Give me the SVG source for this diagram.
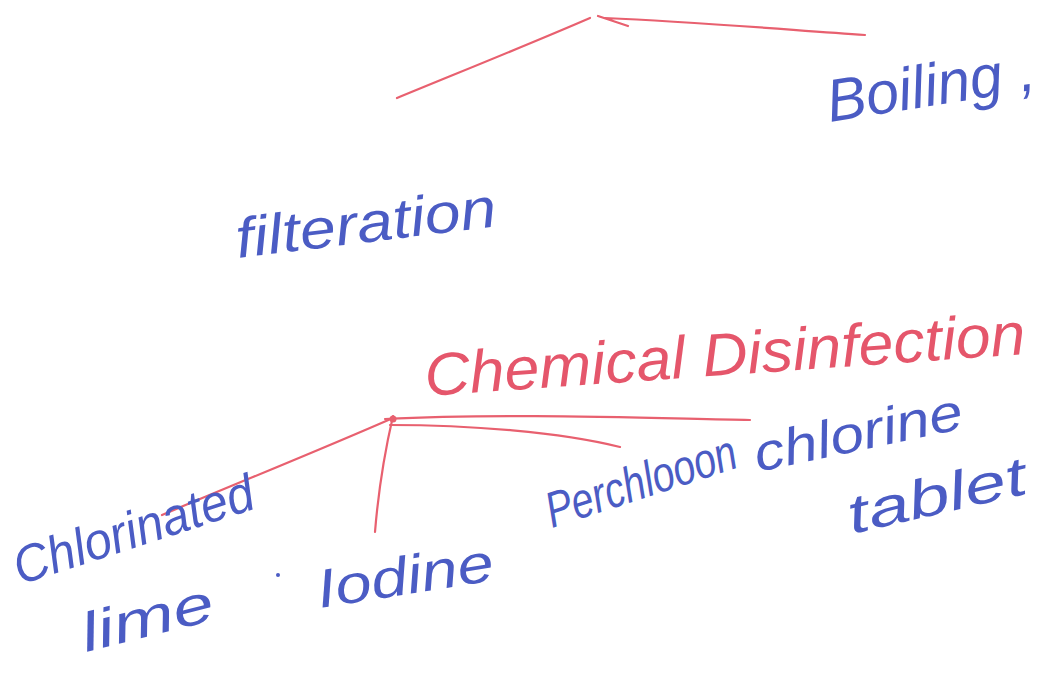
<svg xmlns="http://www.w3.org/2000/svg" width="1058" height="674" viewBox="0 0 1058 674">
  <style>
    .ink-blue { fill: #4b5cc4; font-family: "Liberation Sans", sans-serif; font-style: italic; }
    .ink-red { fill: #e5566b; font-family: "Liberation Sans", sans-serif; font-style: italic; }
    .stroke-red { fill: none; stroke: #e8606f; stroke-width: 2.2; stroke-linecap: round; stroke-linejoin: round; }
  </style>
  <rect width="1058" height="674" fill="#ffffff"/>

  <!-- pen strokes -->
  <g id="connectors">
    <path class="stroke-red" d="M397,98 C460,72 530,44 590,18"/>
    <path class="stroke-red" d="M598,16 L628,26 M605,18 C700,22 790,30 865,35"/>
    <path class="stroke-red" d="M162,515 C240,482 320,450 393,418"/>
    <path class="stroke-red" d="M393,416 C384,455 378,495 375,532"/>
    <path class="stroke-red" d="M385,419 C500,413 640,418 750,420"/>
    <path class="stroke-red" d="M390,425 C470,425 560,432 620,447"/>
    <circle cx="393" cy="419" r="3.5" fill="#e8606f"/>
  </g>

  <g id="boiling">
    <text class="ink-blue" font-size="60" textLength="210" lengthAdjust="spacingAndGlyphs" transform="translate(830,122) rotate(-9)">Boiling ,</text>
  </g>

  <g id="filteration">
    <text class="ink-blue" font-size="56" textLength="262" lengthAdjust="spacingAndGlyphs" transform="translate(238,258) rotate(-7)">filteration</text>
  </g>

  <g id="chemical-disinfection">
    <text class="ink-red" font-size="60" textLength="602" lengthAdjust="spacingAndGlyphs" transform="translate(426,396) rotate(-4)">Chemical Disinfection</text>
  </g>

  <g id="chlorinated-lime">
    <text class="ink-blue" font-size="52" textLength="250" lengthAdjust="spacingAndGlyphs" transform="translate(20,585) rotate(-18)">Chlorinated</text>
    <text class="ink-blue" font-size="54" textLength="135" lengthAdjust="spacingAndGlyphs" transform="translate(86,652) rotate(-14)">lime</text>
    <circle cx="278" cy="575" r="2" fill="#4b5cc4"/>
  </g>

  <g id="iodine">
    <text class="ink-blue" font-size="54" textLength="178" lengthAdjust="spacingAndGlyphs" transform="translate(320,608) rotate(-9)">Iodine</text>
  </g>

  <g id="perchloron-tablet">
    <text class="ink-blue" font-size="50" textLength="198" lengthAdjust="spacingAndGlyphs" transform="translate(552,528) rotate(-18)">Perchlooon</text>
    <text class="ink-blue" font-size="52" textLength="212" lengthAdjust="spacingAndGlyphs" transform="translate(758,472) rotate(-12)">chlorine</text>
    <text class="ink-blue" font-size="54" textLength="182" lengthAdjust="spacingAndGlyphs" transform="translate(852,534) rotate(-13)">tablet</text>
  </g>
</svg>
